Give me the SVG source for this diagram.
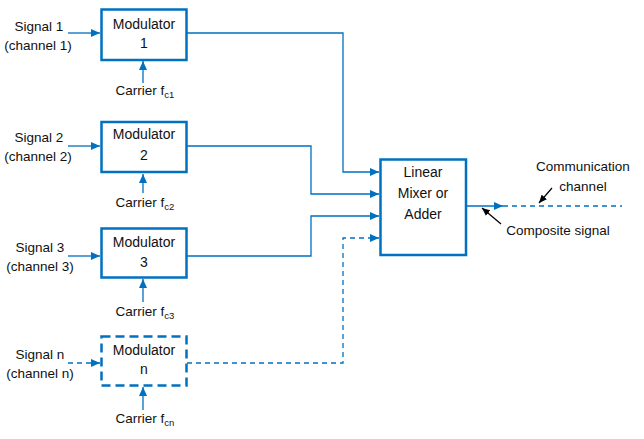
<svg xmlns="http://www.w3.org/2000/svg" width="644" height="439" viewBox="0 0 644 439">
<style>
text{font-family:"Liberation Sans",Arial,sans-serif;font-size:13.5px;fill:#111;text-anchor:middle}
.bt{font-size:14px}
.sub{font-size:9.5px}
.box{fill:#fff;stroke:#0070C0;stroke-width:2.5}
.dbox{fill:#fff;stroke:#0070C0;stroke-width:2.5;stroke-dasharray:9 5}
.ln{fill:none;stroke:#0070C0;stroke-width:1.3}
.dl{fill:none;stroke:#0070C0;stroke-width:1.3;stroke-dasharray:5 4}
.bk{fill:none;stroke:#000;stroke-width:1.2}
</style>
<defs>
<marker id="ab" markerWidth="9" markerHeight="8" refX="9" refY="4" orient="auto" markerUnits="userSpaceOnUse"><path d="M0,0 L9,4 L0,8 Z" fill="#0070C0"/></marker>
<marker id="ak" markerWidth="8" markerHeight="7" refX="8" refY="3.5" orient="auto" markerUnits="userSpaceOnUse"><path d="M0,0 L8,3.5 L0,7 Z" fill="#000"/></marker>
</defs>
<g id="connectors">
<path class="ln" d="M68,33 H100" marker-end="url(#ab)"/>
<path class="ln" d="M68,146 H100" marker-end="url(#ab)"/>
<path class="ln" d="M68,256 H100" marker-end="url(#ab)"/>
<path class="dl" d="M68,363 H100" marker-end="url(#ab)"/>
<path class="ln" d="M143,83 V61" marker-end="url(#ab)"/>
<path class="ln" d="M143,193 V174" marker-end="url(#ab)"/>
<path class="ln" d="M143,302 V279" marker-end="url(#ab)"/>
<path class="ln" d="M143,410 V387" marker-end="url(#ab)"/>
<path class="ln" d="M187,33 H343 V172 H379" marker-end="url(#ab)"/>
<path class="ln" d="M187,146 H311 V194 H379" marker-end="url(#ab)"/>
<path class="ln" d="M187,256 H311 V216 H379" marker-end="url(#ab)"/>
<path class="dl" d="M187,363 H343 V238 H379" marker-end="url(#ab)"/>
<path class="ln" d="M467,206 H503" marker-end="url(#ab)"/>
<path class="dl" d="M503,206 H622"/>
<path class="bk" d="M552,188 L539,203" marker-end="url(#ak)"/>
<path class="bk" d="M501,224 L482,208" marker-end="url(#ak)"/>
</g>
<g id="mod1">
<rect class="box" x="101.5" y="9.5" width="85" height="50.5"/>
<text class="bt" x="144" y="29">Modulator</text><text class="bt" x="144" y="48">1</text>
</g>
<g id="mod2">
<rect class="box" x="101.5" y="122" width="85" height="50"/>
<text class="bt" x="144" y="139">Modulator</text><text class="bt" x="144" y="160">2</text>
</g>
<g id="mod3">
<rect class="box" x="101.5" y="228.5" width="85" height="49"/>
<text class="bt" x="144" y="247">Modulator</text><text class="bt" x="144" y="267">3</text>
</g>
<g id="modn">
<rect class="dbox" x="101.5" y="336.5" width="85" height="49"/>
<text class="bt" x="144" y="355">Modulator</text><text class="bt" x="144" y="374">n</text>
</g>
<g id="mixer">
<rect class="box" x="380.5" y="159.5" width="85.5" height="95.5"/>
<text class="bt" x="423" y="177">Linear</text><text class="bt" x="423" y="198">Mixer or</text><text class="bt" x="423" y="219">Adder</text>
</g>
<g id="sig1"><text x="39" y="31">Signal 1</text><text x="38" y="50">(channel 1)</text></g>
<g id="sig2"><text x="39" y="142">Signal 2</text><text x="38" y="161">(channel 2)</text></g>
<g id="sig3"><text x="40" y="252">Signal 3</text><text x="40" y="271">(channel 3)</text></g>
<g id="sign"><text x="40" y="359">Signal n</text><text x="40" y="378">(channel n)</text></g>
<g id="car1"><text x="145" y="95">Carrier f<tspan class="sub" dy="3">c1</tspan></text></g>
<g id="car2"><text x="145" y="207">Carrier f<tspan class="sub" dy="3">c2</tspan></text></g>
<g id="car3"><text x="145" y="316">Carrier f<tspan class="sub" dy="3">c3</tspan></text></g>
<g id="carn"><text x="145" y="423">Carrier f<tspan class="sub" dy="3">cn</tspan></text></g>
<g id="labels">
<text x="583" y="171">Communication</text><text x="583" y="191">channel</text>
<text x="558" y="235">Composite signal</text>
</g>
</svg>
